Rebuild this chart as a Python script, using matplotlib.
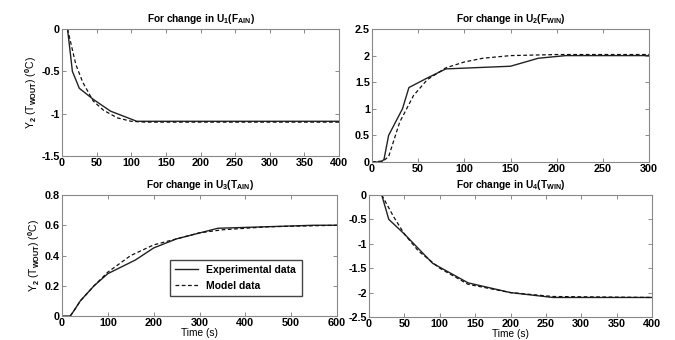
import numpy as np
import matplotlib
matplotlib.use("Agg")
import matplotlib.pyplot as plt

plt.rcParams['font.family'] = ['Liberation Sans', 'DejaVu Sans']
plt.rcParams['font.weight'] = 'bold'
plt.rcParams['mathtext.fontset'] = 'custom'
plt.rcParams['mathtext.rm'] = 'Liberation Sans:bold'
plt.rcParams['mathtext.it'] = 'Liberation Sans:bold'
plt.rcParams['mathtext.bf'] = 'Liberation Sans:bold'
plt.rcParams['mathtext.default'] = 'rm'

# U1 (F_AIN)
t1_exp = [8, 15, 25, 45, 70, 108, 150, 400]
y1_exp = [0, -0.5, -0.7, -0.83, -0.97, -1.09, -1.09, -1.09]
t1_mod = [8, 20, 30, 45, 60, 80, 100, 120, 160, 400]
y1_mod = [0, -0.42, -0.63, -0.85, -0.96, -1.05, -1.09, -1.1, -1.1, -1.1]

# U2 (F_WIN)
t2_exp = [0, 10, 13, 18, 33, 40, 60, 80, 150, 180, 210, 300]
y2_exp = [0, 0, 0.05, 0.5, 1.0, 1.4, 1.58, 1.75, 1.8, 1.95, 2.0, 2.0]
t2_mod = [0, 12, 18, 30, 45, 60, 80, 100, 120, 150, 200, 300]
y2_mod = [0, 0.02, 0.1, 0.75, 1.25, 1.55, 1.77, 1.88, 1.95, 2.0, 2.02, 2.02]

# U3 (T_AIN)
t3_exp = [0, 18, 25, 40, 70, 100, 160, 200, 250, 340, 550, 600]
y3_exp = [0, 0, 0.03, 0.1, 0.2, 0.28, 0.37, 0.45, 0.51, 0.58, 0.6, 0.6]
t3_mod = [18, 25, 40, 70, 100, 150, 200, 250, 300, 350, 450, 600]
y3_mod = [0, 0.03, 0.1, 0.2, 0.29, 0.4, 0.47, 0.51, 0.55, 0.57, 0.59, 0.6]

# U4 (T_WIN)
t4_exp = [18, 28, 50, 90, 140, 200, 260, 400]
y4_exp = [0, -0.5, -0.8, -1.4, -1.8, -2.0, -2.1, -2.1]
t4_mod = [18, 35, 50, 70, 100, 140, 200, 260, 400]
y4_mod = [0, -0.45, -0.8, -1.15, -1.5, -1.83, -2.0, -2.08, -2.1]

titles = ['For change in U$_1$(F$_{AIN}$)', 'For change in U$_2$(F$_{WIN}$)',
          'For change in U$_3$(T$_{AIN}$)', 'For change in U$_4$(T$_{WIN}$)']
ylabel = 'Y$_2$ (T$_{WOUT}$) ($^0$C)'

fig = plt.figure(figsize=(6.75, 3.4), dpi=100)
W, H = 675.0, 340.0


def box(l, t, r, b):
    return [l / W, 1 - b / H, (r - l) / W, (b - t) / H]


axs = [fig.add_axes(box(62, 29, 339, 156)),
       fig.add_axes(box(372, 29, 649, 162)),
       fig.add_axes(box(62, 195, 337, 316)),
       fig.add_axes(box(369, 195, 652, 317))]

data = [(t1_exp, y1_exp, t1_mod, y1_mod), (t2_exp, y2_exp, t2_mod, y2_mod),
        (t3_exp, y3_exp, t3_mod, y3_mod), (t4_exp, y4_exp, t4_mod, y4_mod)]
xlims = [(0, 400), (0, 300), (0, 600), (0, 400)]
ylims = [(-1.5, 0), (0, 2.5), (0, 0.8), (-2.5, 0)]
yticks = [[-1.5, -1, -0.5, 0], [0, 0.5, 1, 1.5, 2, 2.5],
          [0, 0.2, 0.4, 0.6, 0.8], [-2.5, -2, -1.5, -1, -0.5, 0]]

for i, ax in enumerate(axs):
    te, ye, tm, ym = data[i]
    ax.plot(te, ye, '-', color='#222222', lw=1.0, label='Experimental data')
    ax.plot(tm, ym, '--', color='#111111', lw=0.9, dashes=(3, 2), label='Model data')
    ax.set_xlim(*xlims[i])
    ax.set_ylim(*ylims[i])
    ax.set_yticks(yticks[i])
    ax.set_yticklabels(['%g' % v for v in yticks[i]])
    ax.tick_params(direction='in', top=True, right=True, length=3, width=0.6,
                   labelsize=7.8, pad=1.5, color='#777777')
    for s in ax.spines.values():
        s.set_color('#888888')
        s.set_linewidth(0.8)
    ax.set_title(titles[i], fontsize=7.3, fontweight='bold', pad=5)

axs[0].set_ylabel(ylabel, fontsize=7.5, labelpad=2)
axs[2].set_ylabel(ylabel, fontsize=7.5, labelpad=2)
axs[2].set_xlabel('Time (s)', fontsize=7.3, labelpad=0)
axs[3].set_xlabel('Time (s)', fontsize=7.3, labelpad=0)
axs[2].legend(loc='lower right', bbox_to_anchor=(0.89, 0.12), fontsize=7.5,
              fancybox=False, edgecolor='#444444', framealpha=1,
              handlelength=2.2, borderpad=0.5, labelspacing=0.6)

fig.savefig('out.png', dpi=100)
